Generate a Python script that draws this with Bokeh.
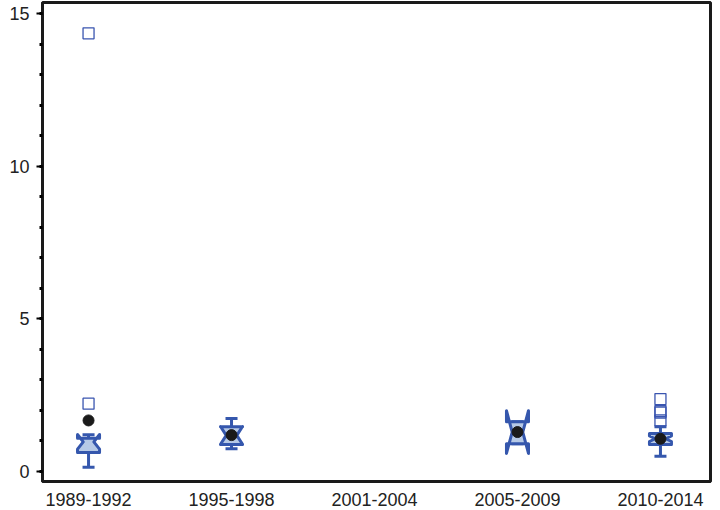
from bokeh.plotting import figure
from bokeh.models import ColumnDataSource, FixedTicker, Range1d
from bokeh.embed import file_html
from bokeh.resources import INLINE

periods = ["1989-1992", "1995-1998", "2001-2004", "2005-2009", "2010-2014"]
# box statistics (None = no data)
q1 = [0.62, 0.88, None, 0.91, 0.88]
med = [0.97, 1.18, None, 1.29, 1.07]
q3 = [1.09, 1.46, None, 1.63, 1.24]
notch = [0.24, 0.29, None, 0.70, 0.09]
whisk_lo = [0.14, 0.74, None, 0.91, 0.50]
whisk_hi = [1.20, 1.73, None, 1.63, 1.46]
means = [1.67, 1.19, None, 1.29, 1.07]
out_period = ["1989-1992", "1989-1992", "2010-2014", "2010-2014", "2010-2014", "2010-2014"]
out_value = [14.35, 2.22, 2.37, 1.98, 1.93, 1.67]
y_major = [0, 5, 10, 15]

BLUE = "#3557ad"
FILL = "#b6c9e6"
W = 0.077   # half box width (x units)
NW = 0.037  # half notch width
CW = 0.042  # half cap width

pos = {c: i for i, c in enumerate(periods)}

p = figure(width=716, height=508, output_backend="svg", toolbar_location=None,
           x_range=Range1d(-0.322, 4.35), y_range=Range1d(-0.33, 15.36),
           min_border_left=42, min_border_top=2, min_border_right=6, min_border_bottom=10)
p.grid.visible = False
p.outline_line_color = "#1a1a1a"
p.outline_line_width = 3

xs_poly, ys_poly = [], []
seg = dict(x0=[], y0=[], x1=[], y1=[])
mx, my = [], []
for i, c in enumerate(periods):
    if q1[i] is None:
        continue
    x = pos[c]
    m, n = med[i], notch[i]
    xs_poly.append([x - W, x - W, x - NW, x - W, x - W, x + W, x + W, x + NW, x + W, x + W])
    ys_poly.append([q3[i], m + n, m, m - n, q1[i], q1[i], m - n, m, m + n, q3[i]])
    # whiskers
    for a, b in ((q3[i], whisk_hi[i]), (q1[i], whisk_lo[i])):
        seg["x0"].append(x); seg["y0"].append(a); seg["x1"].append(x); seg["y1"].append(b)
    for b in (whisk_hi[i], whisk_lo[i]):
        seg["x0"].append(x - CW); seg["y0"].append(b); seg["x1"].append(x + CW); seg["y1"].append(b)
    mx.append(x); my.append(means[i])

p.segment(x0="x0", y0="y0", x1="x1", y1="y1", source=ColumnDataSource(seg),
          line_color=BLUE, line_width=3)
p.patches(xs_poly, ys_poly, fill_color=FILL, line_color=BLUE, line_width=3, line_join="round")
p.scatter([pos[c] for c in out_period], out_value, marker="square", size=11,
          fill_color=None, line_color="#3a55b0", line_width=1.3)
p.scatter(mx, my, marker="circle", size=11, fill_color="#1a1a1a", line_color="#1a1a1a")

# axes
p.xaxis.ticker = FixedTicker(ticks=list(range(len(periods))))
p.xaxis.major_label_overrides = {i: c for i, c in enumerate(periods)}
p.xaxis.major_tick_line_color = None
p.xaxis.minor_tick_line_color = None
p.xaxis.axis_line_width = 3
p.xaxis.axis_line_color = "#1a1a1a"
p.xaxis.major_label_text_font = "Liberation Sans"
p.xaxis.major_label_text_font_size = "18px"
p.xaxis.major_label_text_color = "#222222"
p.xaxis.major_label_standoff = 5

p.yaxis.ticker = FixedTicker(ticks=y_major, minor_ticks=list(range(0, 16)))
p.yaxis.axis_line_width = 3
p.yaxis.axis_line_color = "#1a1a1a"
p.yaxis.major_tick_line_width = 2
p.yaxis.major_tick_out = 6
p.yaxis.major_tick_in = 0
p.yaxis.minor_tick_line_width = 3
p.yaxis.minor_tick_out = 3
p.yaxis.minor_tick_in = 0
p.yaxis.major_label_text_font = "Liberation Sans"
p.yaxis.major_label_text_font_size = "18px"
p.yaxis.major_label_text_color = "#222222"
p.yaxis.major_label_standoff = 7

open("out.html", "w").write(file_html(p, INLINE))
